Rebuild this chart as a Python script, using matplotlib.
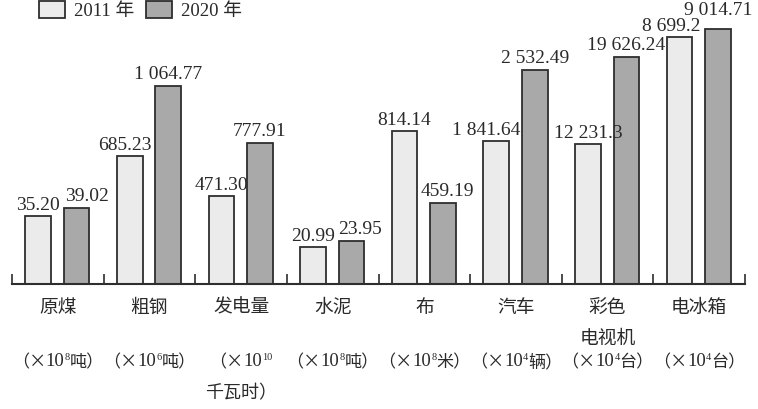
import matplotlib.pyplot as plt
from matplotlib.patches import Patch
from matplotlib.offsetbox import TextArea, HPacker, AnnotationBbox

# categories + units, shown under the axis
cats = ['原煤', '粗钢', '发电量', '水泥', '布', '汽车', '彩色\n电视机', '电冰箱']
unit_exp = ['8', '6', '10', '8', '8', '4', '4', '4']
unit_word = ['吨', '吨', '\n千瓦时', '吨', '米', '辆', '台', '台']

# printed values
v2011 = ['35.20', '685.23', '471.30', '20.99', '814.14', '1 841.64', '12 231.3', '8 699.2']
v2020 = ['39.02', '1 064.77', '777.91', '23.95', '459.19', '2 532.49', '19 626.24', '9 014.71']

# bar heights as drawn (each category has its own unit, so heights)
h2011 = [68, 128, 88, 37, 153, 143, 140, 247]
h2020 = [76, 198, 141, 43, 81, 214, 227, 255]

W, H = 758, 409
fig = plt.figure(figsize=(W / 100, H / 100), dpi=100)
base = 284  # baseline pixel row
ax = fig.add_axes([12 / W, (H - base) / H, (745 - 12) / W, base / H])
ax.set_xlim(0, 8)
ax.set_ylim(0, base)

c_light = '#ebebeb'
c_dark = '#a9a9a9'
edge = '#2e2e2e'
txt = '#2a2a2a'
numfont = ['Liberation Serif', 'DejaVu Serif']
cjk = ['Noto Sans CJK SC', 'DejaVu Sans']

x = range(len(cats))
bw = 0.28
b1 = ax.bar([i + 0.285 for i in x], h2011, width=bw, color=c_light, edgecolor=edge, linewidth=1.3)
b2 = ax.bar([i + 0.705 for i in x], h2020, width=bw, color=c_dark, edgecolor=edge, linewidth=1.3)

# small nudges (px) so labels sit like the original
px = 8 / 733
nudge1 = {1: -5, 5: -10, 7: -8}
nudge2 = {0: 10, 3: 9, 4: 4}
lift2 = {7: 7}
for i in x:
    ax.text(i + 0.285 + nudge1.get(i, 0) * px, h2011[i] + 2, v2011[i], ha='center', va='bottom',
            fontsize=14, family=numfont, color=txt)
    ax.text(i + 0.705 + nudge2.get(i, 0) * px, h2020[i] + 3 + lift2.get(i, 0), v2020[i], ha='center',
            va='bottom', fontsize=14, family=numfont, color=txt)

def unit_box(exp, word):
    big = dict(family=cjk, size=12.3, color=txt)
    num = dict(family=numfont, size=13.5, color=txt)
    small = dict(family=numfont, size=7.5, color=txt)
    parts = [TextArea('（×', textprops=big), TextArea('10', textprops=num),
             TextArea(exp, textprops=small)]
    if word:
        parts.append(TextArea(word + '）', textprops=big))
    return HPacker(children=parts, align='top', pad=0, sep=0)

for i in x:
    c = cats[i]
    if '\n' in c:
        a, b = c.split('\n')
        ax.text(i + 0.5, -23, a, ha='center', va='center', fontsize=13.5, family=cjk, color=txt, clip_on=False)
        ax.text(i + 0.5, -54, b, ha='center', va='center', fontsize=13.5, family=cjk, color=txt, clip_on=False)
    else:
        ax.text(i + 0.5, -23, c, ha='center', va='center', fontsize=13.5, family=cjk, color=txt, clip_on=False)
    w = unit_word[i]
    if w.startswith('\n'):
        box = unit_box(unit_exp[i], '')
        ax.text(i + 0.5, -109, w[1:] + '）', ha='center', va='center', fontsize=13, family=cjk,
                color=txt, clip_on=False)
    else:
        box = unit_box(unit_exp[i], w)
    ab = AnnotationBbox(box, (i + 0.5, -78), xycoords='data', frameon=False,
                        box_alignment=(0.5, 0.5), pad=0, annotation_clip=False)
    ax.add_artist(ab)

for s in ['top', 'right', 'left']:
    ax.spines[s].set_visible(False)
ax.spines['bottom'].set_color(edge)
ax.spines['bottom'].set_linewidth(1.5)
ax.set_yticks([])
ax.set_xticks(range(9))
ax.set_xticklabels([])
ax.tick_params(axis='x', direction='in', length=7.5, width=1.2, color=edge)

handles = [Patch(facecolor=c_light, edgecolor=edge, linewidth=1.3),
           Patch(facecolor=c_dark, edgecolor=edge, linewidth=1.3)]
fig.legend(handles, ['2011 年', '2020 年'], loc='upper left', bbox_to_anchor=(39 / W, 1 - 1 / H),
           ncol=2, frameon=False, borderpad=0, borderaxespad=0, handlelength=1.4, handleheight=1.05,
           handletextpad=0.45, columnspacing=0.65,
           prop={'family': ['Liberation Serif', 'Noto Sans CJK SC'], 'size': 13.5}, labelcolor=txt)

fig.savefig('out.png', dpi=100, facecolor='white')
